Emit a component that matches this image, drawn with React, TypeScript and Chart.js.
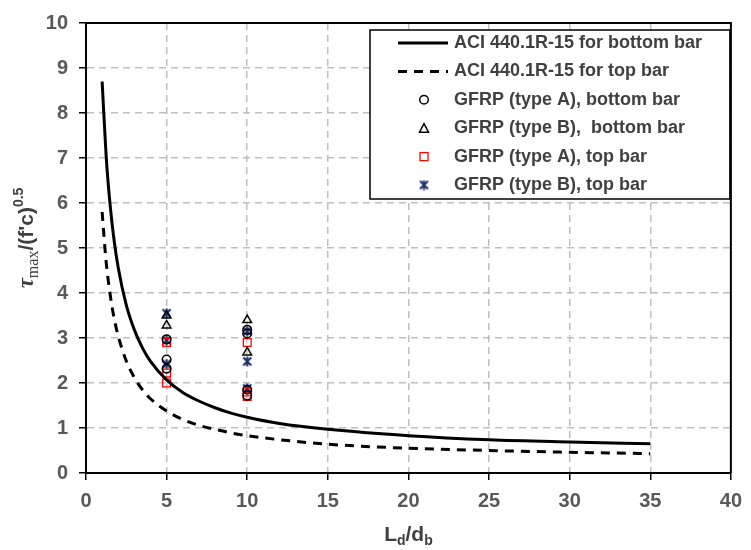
import React, { useEffect, useRef } from "react";
import { Chart, registerables } from "chart.js";

Chart.register(...registerables);

// ---- data ----
const curveX = [1, 1.25, 1.5, 1.75, 2, 2.5, 3, 3.5, 4, 5, 6, 7, 8, 9, 10, 12, 15, 20, 25, 30, 35];
const aciBottom = [8.70, 7.04, 5.94, 5.15, 4.56, 3.73, 3.18, 2.78, 2.48, 2.07, 1.79, 1.60, 1.45, 1.33, 1.24, 1.10, 0.97, 0.83, 0.74, 0.69, 0.65];
const aciTop = [5.80, 4.69, 3.96, 3.43, 3.04, 2.49, 2.12, 1.85, 1.65, 1.38, 1.19, 1.06, 0.97, 0.89, 0.83, 0.74, 0.64, 0.55, 0.50, 0.46, 0.43];

const typeABottomX = [5, 5, 5, 10, 10, 10, 10];
const typeABottomY = [2.97, 2.52, 2.32, 3.18, 3.1, 1.85, 1.72];
const typeBBottomX = [5, 5, 10, 10];
const typeBBottomY = [3.5, 3.28, 3.4, 2.68];
const typeATopX = [5, 5, 5, 10, 10, 10];
const typeATopY = [2.9, 2.22, 2.0, 2.9, 1.8, 1.7];
const typeBTopX = [5, 5, 5, 10, 10, 10];
const typeBTopY = [3.55, 2.95, 2.42, 3.15, 2.48, 1.88];

const xTicks = [0, 5, 10, 15, 20, 25, 30, 35, 40];
const yTicks = [0, 1, 2, 3, 4, 5, 6, 7, 8, 9, 10];

const legendLabels = [
  "ACI 440.1R-15 for bottom bar",
  "ACI 440.1R-15 for top bar",
  "GFRP (type A), bottom bar",
  "GFRP (type B),  bottom bar",
  "GFRP (type A), top bar",
  "GFRP (type B), top bar",
];

const SANS = "'Liberation Sans', Arial, sans-serif";
const SERIF = "'Liberation Serif', 'Times New Roman', serif";
const NAVY = "#1c2f6b";
const RED = "#ff0000";

const pts = (xs: number[], ys: number[]) => xs.map((x, i) => ({ x, y: ys[i] }));

function makeStar(): HTMLCanvasElement {
  const c = document.createElement("canvas");
  c.width = 11;
  c.height = 11;
  const g = c.getContext("2d")!;
  g.strokeStyle = NAVY;
  g.lineWidth = 2;
  g.beginPath();
  g.moveTo(5.5, 0.5);
  g.lineTo(5.5, 10.5);
  g.moveTo(1.5, 1.5);
  g.lineTo(9.5, 9.5);
  g.moveTo(9.5, 1.5);
  g.lineTo(1.5, 9.5);
  g.stroke();
  return c;
}

export default function App() {
  const ref = useRef<HTMLCanvasElement>(null);

  useEffect(() => {
    const star = makeStar();

    const decor = {
      id: "decor",
      afterDraw(chart: any) {
        const { ctx, chartArea: a } = chart;
        ctx.save();
        // top & right frame
        ctx.strokeStyle = "#000";
        ctx.lineWidth = 2;
        ctx.setLineDash([]);
        ctx.beginPath();
        ctx.moveTo(a.left, a.top);
        ctx.lineTo(a.right, a.top);
        ctx.lineTo(a.right, a.bottom);
        ctx.stroke();

        // legend box
        const L = a.left + 284;
        const T = a.top + 7;
        const R = a.right - 1;
        const B = a.top + 176;
        ctx.fillStyle = "#fff";
        ctx.fillRect(L, T, R - L, B - T);
        ctx.strokeStyle = "#000";
        ctx.lineWidth = 1.5;
        ctx.strokeRect(L, T, R - L, B - T);

        ctx.font = `bold 18px ${SANS}`;
        ctx.textBaseline = "middle";
        ctx.textAlign = "left";
        legendLabels.forEach((lab, i) => {
          const y = T + 13 + i * 28.4;
          const mx = L + 54;
          ctx.save();
          if (i === 0 || i === 1) {
            ctx.strokeStyle = "#000";
            ctx.lineWidth = 3;
            ctx.setLineDash(i === 1 ? [9, 7] : []);
            ctx.beginPath();
            ctx.moveTo(L + 28, y);
            ctx.lineTo(L + 78, y);
            ctx.stroke();
          } else if (i === 2) {
            ctx.strokeStyle = "#000";
            ctx.lineWidth = 1.5;
            ctx.beginPath();
            ctx.arc(mx, y, 4.3, 0, Math.PI * 2);
            ctx.stroke();
          } else if (i === 3) {
            ctx.strokeStyle = "#000";
            ctx.lineWidth = 1.5;
            ctx.beginPath();
            ctx.moveTo(mx, y - 4.5);
            ctx.lineTo(mx + 4.5, y + 4);
            ctx.lineTo(mx - 4.5, y + 4);
            ctx.closePath();
            ctx.stroke();
          } else if (i === 4) {
            ctx.strokeStyle = RED;
            ctx.lineWidth = 1.3;
            ctx.strokeRect(mx - 4, y - 4, 8, 8);
          } else {
            ctx.drawImage(star, mx - 5.5, y - 5.5);
          }
          ctx.restore();
          ctx.fillStyle = "#404040";
          ctx.fillText(lab, L + 84, y);
        });

        // x title: L_d/d_b
        ctx.fillStyle = "#404040";
        ctx.textBaseline = "alphabetic";
        const xParts: [string, string, number][] = [
          ["L", `bold 21px ${SANS}`, 0],
          ["d", `bold 14px ${SANS}`, 4],
          ["/d", `bold 21px ${SANS}`, 0],
          ["b", `bold 14px ${SANS}`, 4],
        ];
        let tw = 0;
        xParts.forEach(([s, f]) => {
          ctx.font = f;
          tw += ctx.measureText(s).width;
        });
        let cx = (a.left + a.right) / 2 - tw / 2;
        const by = 541;
        xParts.forEach(([s, f, dy]) => {
          ctx.font = f;
          ctx.fillText(s, cx, by + dy);
          cx += ctx.measureText(s).width;
        });

        // y title: tau_max/(f'c)^0.5
        const yParts: [string, string, number][] = [
          ["τ", `italic bold 23px ${SERIF}`, 0],
          ["max", `16px ${SERIF}`, 5],
          ["/(f'c)", `bold 21px ${SANS}`, 0],
          ["0.5", `bold 14px ${SANS}`, -10],
        ];
        let yw = 0;
        yParts.forEach(([s, f]) => {
          ctx.font = f;
          yw += ctx.measureText(s).width;
        });
        ctx.translate(33, 238);
        ctx.rotate(-Math.PI / 2);
        let px = -yw / 2;
        yParts.forEach(([s, f, dy]) => {
          ctx.font = f;
          ctx.fillText(s, px, dy);
          px += ctx.measureText(s).width;
        });
        ctx.restore();
      },
    };

    const tickFont = { family: SANS, size: 20, weight: "bold" as const };

    const chart = new Chart(ref.current!, {
      type: "scatter",
      data: {
        datasets: [
          {
            label: legendLabels[0],
            data: pts(curveX, aciBottom),
            showLine: true,
            borderColor: "#000",
            borderWidth: 3,
            pointRadius: 0,
            cubicInterpolationMode: "monotone",
          },
          {
            label: legendLabels[1],
            data: pts(curveX, aciTop),
            showLine: true,
            borderColor: "#000",
            borderWidth: 3,
            borderDash: [9, 7],
            pointRadius: 0,
            cubicInterpolationMode: "monotone",
          },
          {
            label: legendLabels[2],
            data: pts(typeABottomX, typeABottomY),
            pointStyle: "circle",
            pointRadius: 4.3,
            borderColor: "#000",
            backgroundColor: "transparent",
            borderWidth: 1.5,
          },
          {
            label: legendLabels[3],
            data: pts(typeBBottomX, typeBBottomY),
            pointStyle: "triangle",
            pointRadius: 5,
            borderColor: "#000",
            backgroundColor: "transparent",
            borderWidth: 1.5,
          },
          {
            label: legendLabels[4],
            data: pts(typeATopX, typeATopY),
            pointStyle: "rect",
            pointRadius: 5.5,
            borderColor: RED,
            backgroundColor: "transparent",
            borderWidth: 1.3,
          },
          {
            label: legendLabels[5],
            data: pts(typeBTopX, typeBTopY),
            pointStyle: star,
            pointRadius: 5,
            borderColor: NAVY,
            backgroundColor: NAVY,
          },
        ],
      } as any,
      options: {
        animation: false,
        responsive: false,
        events: [],
        layout: { padding: { top: 20, right: 14, left: 0, bottom: 0 } },
        plugins: {
          legend: { display: false },
          tooltip: { enabled: false },
          title: { display: false },
        },
        scales: {
          x: {
            type: "linear",
            min: 0,
            max: 40,
            afterFit: (s: any) => {
              s.height = 77;
            },
            afterBuildTicks: (s: any) => {
              s.ticks = xTicks.map((v) => ({ value: v }));
            },
            ticks: { font: tickFont, color: "#595959", padding: 9 },
            grid: {
              color: "#bfbfbf",
              lineWidth: 1.5,
              tickColor: "#000",
              tickLength: 7,
              tickWidth: 1.5,
            },
            border: { color: "#000", width: 2, dash: [7, 5] },
          },
          y: {
            type: "linear",
            min: 0,
            max: 10,
            afterFit: (s: any) => {
              s.width = 86;
            },
            afterBuildTicks: (s: any) => {
              s.ticks = yTicks.map((v) => ({ value: v }));
            },
            ticks: { font: tickFont, color: "#595959", padding: 11 },
            grid: {
              color: "#bfbfbf",
              lineWidth: 1.5,
              tickColor: "#000",
              tickLength: 7,
              tickWidth: 1.5,
            },
            border: { color: "#000", width: 2, dash: [7, 5] },
          },
        },
      } as any,
      plugins: [decor],
    });
    return () => chart.destroy();
  }, []);

  return (
    <div style={{ position: "absolute", left: 0, top: 0, width: 751, height: 550, background: "#fff" }}>
      <canvas ref={ref} width={751} height={550} style={{ display: "block" }} />
    </div>
  );
}
